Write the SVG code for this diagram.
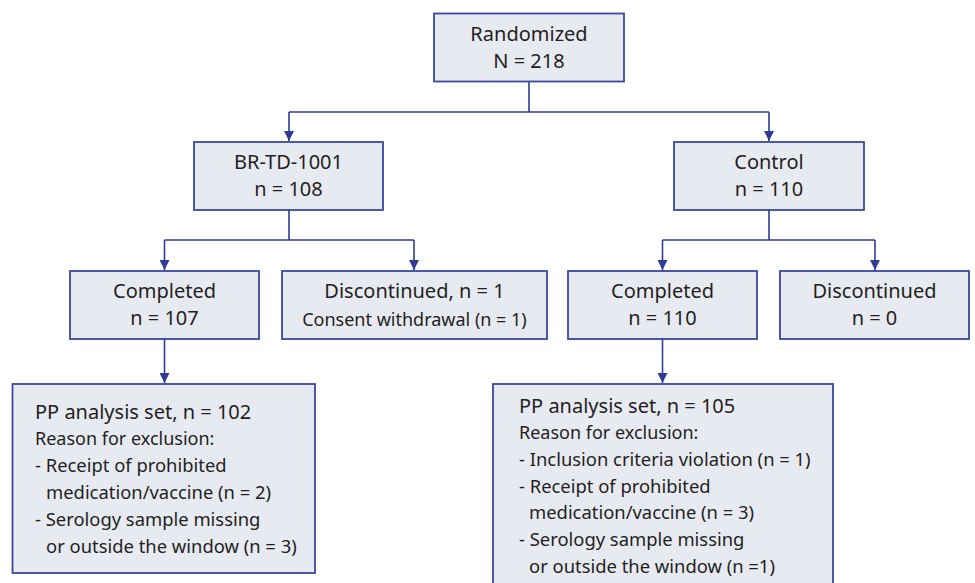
<svg xmlns="http://www.w3.org/2000/svg" width="975" height="583" viewBox="0 0 975 583">
<defs>
<style>
.box{fill:#e8eaf2;stroke:#3a48a2;stroke-width:1.8}
.t{font-family:"Noto Sans","DejaVu Sans",sans-serif;fill:#231f20}
.c{text-anchor:middle;font-size:20px}
.h{font-size:20px}
.s{font-size:18px}
.b{font-size:18.4px}
.con{fill:none;stroke:#2f3c96;stroke-width:1.6}
</style>
<marker id="arr" markerUnits="userSpaceOnUse" markerWidth="10" markerHeight="11" refX="5" refY="10" orient="auto-start-reverse" viewBox="0 0 10 11">
<path d="M0,0 L10,0 L5,10 Z" fill="#2f3c96" transform="rotate(0)"/>
</marker>
<marker id="ad" markerUnits="userSpaceOnUse" markerWidth="10" markerHeight="11" refX="5" refY="10" orient="0" viewBox="0 0 10 11">
<path d="M0,0 L10,0 L5,10 Z" fill="#2f3c96"/>
</marker>
</defs>
<rect width="975" height="583" fill="#ffffff"/>
<g id="connectors">
<path class="con" d="M529,81 V112 M289,112 H769"/>
<path class="con" d="M289,112 V141" marker-end="url(#ad)"/>
<path class="con" d="M769,112 V141" marker-end="url(#ad)"/>
<path class="con" d="M289,210 V240 M164.5,240 H414"/>
<path class="con" d="M164.5,240 V270" marker-end="url(#ad)"/>
<path class="con" d="M414,240 V270" marker-end="url(#ad)"/>
<path class="con" d="M769,210 V240 M662.5,240 H875"/>
<path class="con" d="M662.5,240 V270" marker-end="url(#ad)"/>
<path class="con" d="M875,240 V270" marker-end="url(#ad)"/>
<path class="con" d="M164.5,339 V383" marker-end="url(#ad)"/>
<path class="con" d="M662.5,339 V383" marker-end="url(#ad)"/>
</g>
<g id="randomized">
<rect class="box" x="434" y="13.5" width="190" height="68"/>
<text class="t c" x="529" y="41">Randomized</text>
<text class="t c" x="529" y="67.5">N = 218</text>
</g>
<g id="brtd">
<rect class="box" x="194" y="142" width="189" height="68"/>
<text class="t c" x="288.5" y="169">BR-TD-1001</text>
<text class="t c" x="288.5" y="196">n = 108</text>
</g>
<g id="control">
<rect class="box" x="674" y="142" width="190" height="68"/>
<text class="t c" x="769" y="169">Control</text>
<text class="t c" x="769" y="196">n = 110</text>
</g>
<g id="completed-left">
<rect class="box" x="70" y="271" width="189" height="68"/>
<text class="t c" x="164.5" y="298">Completed</text>
<text class="t c" x="164.5" y="325">n = 107</text>
</g>
<g id="discontinued-left">
<rect class="box" x="282" y="271" width="265" height="68"/>
<text class="t c" x="414.5" y="298">Discontinued, n = 1</text>
<text class="t s" x="414.5" y="326" text-anchor="middle">Consent withdrawal (n = 1)</text>
</g>
<g id="completed-right">
<rect class="box" x="568" y="271" width="189" height="68"/>
<text class="t c" x="662.5" y="298">Completed</text>
<text class="t c" x="662.5" y="325">n = 110</text>
</g>
<g id="discontinued-right">
<rect class="box" x="780" y="271" width="189" height="68"/>
<text class="t c" x="874.5" y="298">Discontinued</text>
<text class="t c" x="874.5" y="325">n = 0</text>
</g>
<g id="pp-left">
<rect class="box" x="12.5" y="384" width="302.5" height="189"/>
<text class="t h" x="35" y="419">PP analysis set, n = 102</text>
<text class="t s" x="35" y="445">Reason for exclusion:</text>
<text class="t b" x="35" y="472">- Receipt of prohibited</text>
<text class="t b" x="46" y="499">medication/vaccine (n = 2)</text>
<text class="t b" x="35" y="526">- Serology sample missing</text>
<text class="t b" x="46" y="553">or outside the window (n = 3)</text>
</g>
<g id="pp-right">
<rect class="box" x="493" y="384" width="340" height="215"/>
<text class="t h" x="519" y="413">PP analysis set, n = 105</text>
<text class="t s" x="519" y="439">Reason for exclusion:</text>
<text class="t b" x="519" y="466">- Inclusion criteria violation (n = 1)</text>
<text class="t b" x="519" y="493">- Receipt of prohibited</text>
<text class="t b" x="529" y="519">medication/vaccine (n = 3)</text>
<text class="t b" x="519" y="546">- Serology sample missing</text>
<text class="t b" x="529" y="573">or outside the window (n =1)</text>
</g>
</svg>
